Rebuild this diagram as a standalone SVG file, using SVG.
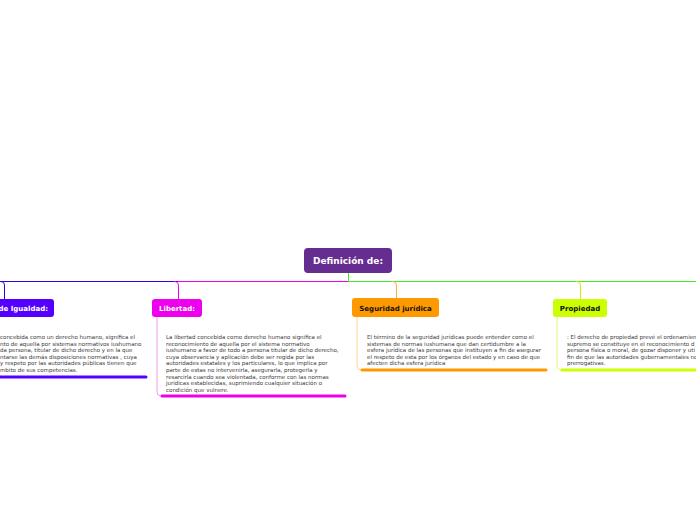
<svg xmlns="http://www.w3.org/2000/svg" width="696" height="520" viewBox="0 0 696 520">
<style>
.t{font-family:"DejaVu Sans","Liberation Sans",sans-serif;font-size:5.5px;fill:#3a3a3a}
.n{font-family:"DejaVu Sans","Liberation Sans",sans-serif;font-size:7px;font-weight:bold}
.c{fill:none;stroke-width:1}
.u{fill:none;stroke-width:3;stroke-linecap:round}
.s{fill:none;stroke-width:0.8}
</style>
<rect width="696" height="520" fill="#fff"/>
<g id="connectors">
<line x1="0" y1="281.5" x2="178" y2="281.5" stroke="#3300ee" stroke-width="1"/>
<line x1="178" y1="281.5" x2="348" y2="281.5" stroke="#ee00ee" stroke-width="1"/>
<line x1="348" y1="281.5" x2="696" y2="281.5" stroke="#44ee22" stroke-width="1"/>
<line x1="348.5" y1="273" x2="348.5" y2="281" stroke="#44ee22" stroke-width="1"/>
<path class="c" d="M0 281.5 H1 Q4.5 281.5 4.5 285 V299" stroke="#3300ee"/>
<path class="c" d="M174 281.5 Q178.5 281.5 178.5 286 V299" stroke="#ee00ee"/>
<path class="c" d="M392 281.5 Q396.5 281.5 396.5 286 V299" stroke="#ffaa33"/>
<path class="c" d="M576 281.5 Q580.5 281.5 580.5 286 V299" stroke="#ccee00"/>
</g>
<g id="title">
<rect x="304" y="248" width="88" height="25" rx="4" fill="#662d91"/>
<text x="348" y="264" text-anchor="middle" class="n" style="font-size:9px" fill="#fff">Definición de:</text>
</g>
<g id="igualdad">
<rect x="-40" y="299" width="94" height="18" rx="3" fill="#5500ff"/>
<text x="48" y="310.5" text-anchor="end" class="n" fill="#fff">de Igualdad:</text>
<text class="t" x="0" y="339">concebida como un derecho humano, significa el</text>
<text class="t" x="0" y="345.6">nto de aquella por sistemas normativos iushumano</text>
<text class="t" x="0" y="352.2">da persona, titular de dicho derecho y en la que</text>
<text class="t" x="0" y="358.8">ntarse las demás disposiciones normativas , cuya</text>
<text class="t" x="0" y="365.4">y respeto por las autoridades públicas tienen que</text>
<text class="t" x="0" y="372">mbito de sus competencias.</text>
<path class="u" d="M0 377 H146" stroke="#5500ff"/>
</g>
<g id="libertad">
<rect x="152" y="299" width="50" height="18" rx="3" fill="#ee00ee"/>
<text x="177" y="310.5" text-anchor="middle" class="n" fill="#fff">Libertad:</text>
<path class="s" d="M157 317 V392 Q157 396 161 396" stroke="#f080f0"/>
<text class="t" x="166" y="339">La libertad concebida como derecho humano significa el</text>
<text class="t" x="166" y="345.6">reconocimiento de aquella por el sistema normativo</text>
<text class="t" x="166" y="352.2">iushumano a favor de todo a persona titular de dicho derecho,</text>
<text class="t" x="166" y="358.8">cuya observancia y aplicación debe ser regida por las</text>
<text class="t" x="166" y="365.4">autoridades estatales y los particulares, lo que implica por</text>
<text class="t" x="166" y="372">parte de estas no intervenirla, asegurarla, protegerla y</text>
<text class="t" x="166" y="378.6">resarcirla cuando sea violentada, conforme con las normas</text>
<text class="t" x="166" y="385.2">jurídicas establecidas, suprimiendo cualquier situación o</text>
<text class="t" x="166" y="391.8">condición que vulnere.</text>
<path class="u" d="M162 396 H345" stroke="#ee00ee"/>
</g>
<g id="seguridad">
<rect x="352" y="298" width="87" height="19" rx="3" fill="#ff9900"/>
<text x="395.5" y="310.5" text-anchor="middle" class="n" fill="#111">Seguridad jurídica</text>
<path class="s" d="M357 317 V366 Q357 370 361 370" stroke="#ffcc77"/>
<text class="t" x="367" y="339">El término de la seguridad jurídicas puede entender como el</text>
<text class="t" x="367" y="345.6">sistemas de normas iushumana que dan certidumbre a la</text>
<text class="t" x="367" y="352.2">esfera jurídica de las personas que instituyen a fin de asegurar</text>
<text class="t" x="367" y="358.8">el respeto de esta por los órganos del estado y en caso de que</text>
<text class="t" x="367" y="365.4">afecten dicha esfera jurídica</text>
<path class="u" d="M362 370 H546" stroke="#ff9900"/>
</g>
<g id="propiedad">
<rect x="553" y="299" width="54" height="18" rx="3" fill="#ccff00"/>
<text x="580" y="310.5" text-anchor="middle" class="n" fill="#111">Propiedad</text>
<path class="s" d="M557 317 V366 Q557 370 561 370" stroke="#e0f060"/>
<text class="t" x="567" y="339">: El derecho de propiedad prevé el ordenamien</text>
<text class="t" x="567" y="345.6">supremo se constituye en  el reconocimiento d</text>
<text class="t" x="567" y="352.2">persona física o moral, de gozar disponer y uti</text>
<text class="t" x="567" y="358.8">fin de que las autoridades gubernamentales no</text>
<text class="t" x="567" y="365.4">prerrogativas.</text>
<path class="u" d="M562 370 H698" stroke="#ccff00"/>
</g>
</svg>
